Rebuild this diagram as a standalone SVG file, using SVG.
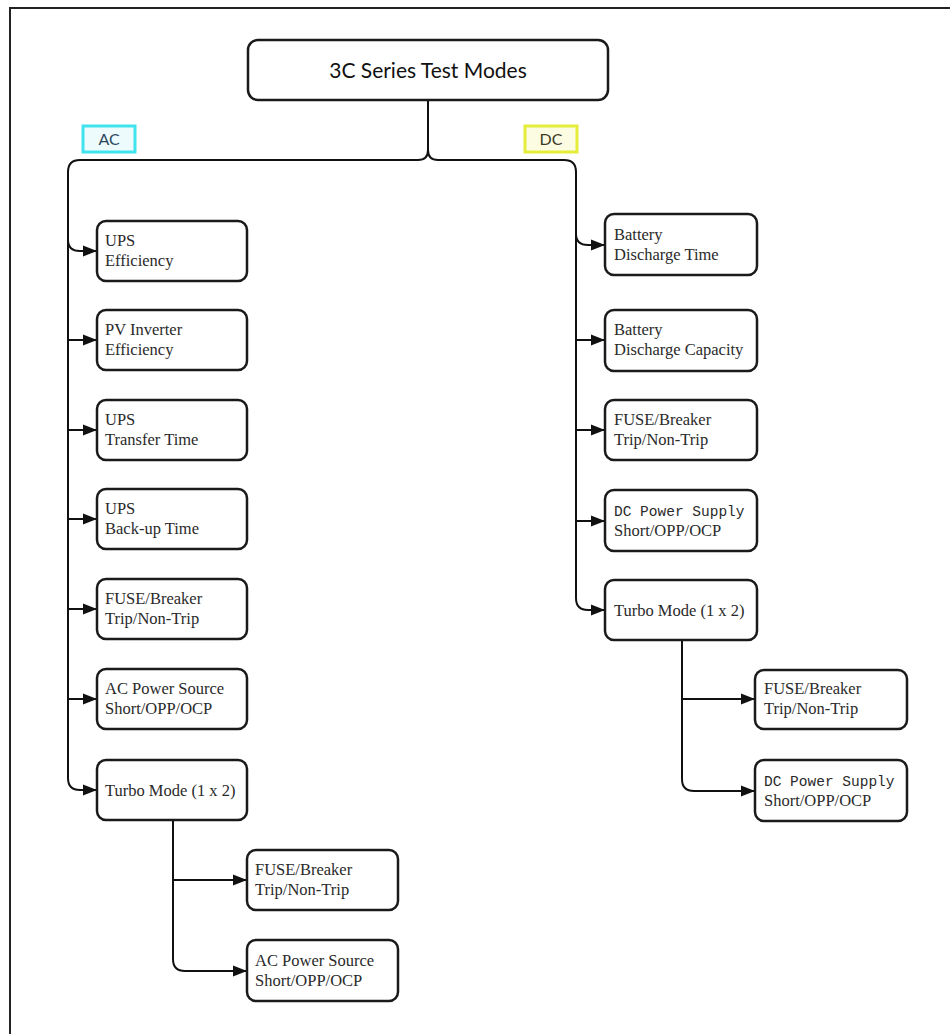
<svg xmlns="http://www.w3.org/2000/svg" width="950" height="1034" viewBox="0 0 950 1034">
<defs>
<marker id="ah" markerUnits="userSpaceOnUse" markerWidth="15" markerHeight="12" refX="14" refY="6" orient="auto">
<path d="M0,0.5 L14,6 L0,11.5 z" fill="#111"/>
</marker>
</defs>
<style>
.box{fill:#fff;stroke:#1a1a1a;stroke-width:2.5}
.t{font-family:"Liberation Serif","Times New Roman",serif;font-size:16.5px;fill:#2a2a2a}
.m{font-family:"Liberation Mono","Courier New",monospace;font-size:14.5px;fill:#2a2a2a}
.c{fill:none;stroke:#111;stroke-width:2}
.a{fill:none;stroke:#111;stroke-width:2;marker-end:url(#ah)}
</style>
<rect width="950" height="1034" fill="#fff"/>
<path d="M10,1034 V8 H950" fill="none" stroke="#222" stroke-width="2"/>

<g id="connectors">
<path class="c" d="M428,100 V150 Q428,160 418,160 H80 Q68,160 68,172 V778 Q68,790 80,790 H85"/>
<path class="a" d="M84,790 H97"/>
<path class="c" d="M428,150 Q428,160 438,160 H564 Q576,160 576,172 V598 Q576,610 588,610 H592"/>
<path class="a" d="M590,610 H605"/>
<path class="a" d="M68,240 Q68,251 80,251 H97"/>
<path class="a" d="M68,340 H97"/>
<path class="a" d="M68,430 H97"/>
<path class="a" d="M68,519 H97"/>
<path class="a" d="M68,609 H97"/>
<path class="a" d="M68,699 H97"/>
<path class="a" d="M576,234 Q576,245 588,245 H605"/>
<path class="a" d="M576,340 H605"/>
<path class="a" d="M576,430 H605"/>
<path class="a" d="M576,521 H605"/>
<path class="a" d="M173,820 V959 Q173,971 185,971 H247"/>
<path class="a" d="M173,880 H247"/>
<path class="a" d="M682,640 V779 Q682,791 694,791 H755"/>
<path class="a" d="M682,699 H755"/>
</g>

<g id="title">
<rect x="248" y="40" width="360" height="60" rx="10" fill="#fff" stroke="#1a1a1a" stroke-width="2.5"/>
<text x="428" y="78" text-anchor="middle" font-family="Lato,'Liberation Sans',sans-serif" font-size="21" fill="#111">3C Series Test Modes</text>
</g>
<g id="label-ac">
<rect x="83" y="126" width="52" height="26" fill="#eefbfd" stroke="#3fe4ee" stroke-width="3"/>
<text x="109" y="145" text-anchor="middle" font-family="Lato,'Liberation Sans',sans-serif" font-size="16" fill="#2b4660">AC</text>
</g>
<g id="label-dc">
<rect x="525" y="126" width="52" height="26" fill="#fbfce2" stroke="#e4ee3a" stroke-width="3"/>
<text x="551" y="145" text-anchor="middle" font-family="Lato,'Liberation Sans',sans-serif" font-size="16" fill="#3a3a22">DC</text>
</g>

<g id="ac1"><rect class="box" x="97" y="221" width="150" height="60" rx="9"/><text class="t" x="105" y="246">UPS</text><text class="t" x="105" y="266">Efficiency</text></g>
<g id="ac2"><rect class="box" x="97" y="310" width="150" height="60" rx="9"/><text class="t" x="105" y="335">PV Inverter</text><text class="t" x="105" y="355">Efficiency</text></g>
<g id="ac3"><rect class="box" x="97" y="400" width="150" height="60" rx="9"/><text class="t" x="105" y="425">UPS</text><text class="t" x="105" y="445">Transfer Time</text></g>
<g id="ac4"><rect class="box" x="97" y="489" width="150" height="60" rx="9"/><text class="t" x="105" y="514">UPS</text><text class="t" x="105" y="534">Back-up Time</text></g>
<g id="ac5"><rect class="box" x="97" y="579" width="150" height="60" rx="9"/><text class="t" x="105" y="604">FUSE/Breaker</text><text class="t" x="105" y="624">Trip/Non-Trip</text></g>
<g id="ac6"><rect class="box" x="97" y="669" width="150" height="60" rx="9"/><text class="t" x="105" y="694">AC Power Source</text><text class="t" x="105" y="714">Short/OPP/OCP</text></g>
<g id="ac7"><rect class="box" x="97" y="760" width="150" height="60" rx="9"/><text class="t" x="105" y="796">Turbo Mode (1 x 2)</text></g>
<g id="ac7a"><rect class="box" x="247" y="850" width="151" height="60" rx="9"/><text class="t" x="255" y="875">FUSE/Breaker</text><text class="t" x="255" y="895">Trip/Non-Trip</text></g>
<g id="ac7b"><rect class="box" x="247" y="940" width="151" height="61" rx="9"/><text class="t" x="255" y="966">AC Power Source</text><text class="t" x="255" y="986">Short/OPP/OCP</text></g>

<g id="dc1"><rect class="box" x="605" y="214" width="152" height="61" rx="9"/><text class="t" x="614" y="240">Battery</text><text class="t" x="614" y="260">Discharge Time</text></g>
<g id="dc2"><rect class="box" x="605" y="310" width="152" height="61" rx="9"/><text class="t" x="614" y="335">Battery</text><text class="t" x="614" y="355">Discharge Capacity</text></g>
<g id="dc3"><rect class="box" x="605" y="400" width="152" height="60" rx="9"/><text class="t" x="614" y="425">FUSE/Breaker</text><text class="t" x="614" y="445">Trip/Non-Trip</text></g>
<g id="dc4"><rect class="box" x="605" y="490" width="152" height="61" rx="9"/><text class="m" x="614" y="516">DC Power Supply</text><text class="t" x="614" y="536">Short/OPP/OCP</text></g>
<g id="dc5"><rect class="box" x="605" y="580" width="152" height="60" rx="9"/><text class="t" x="614" y="616">Turbo Mode (1 x 2)</text></g>
<g id="dc5a"><rect class="box" x="755" y="670" width="152" height="59" rx="9"/><text class="t" x="764" y="694">FUSE/Breaker</text><text class="t" x="764" y="714">Trip/Non-Trip</text></g>
<g id="dc5b"><rect class="box" x="755" y="760" width="152" height="61" rx="9"/><text class="m" x="764" y="786">DC Power Supply</text><text class="t" x="764" y="806">Short/OPP/OCP</text></g>
</svg>
